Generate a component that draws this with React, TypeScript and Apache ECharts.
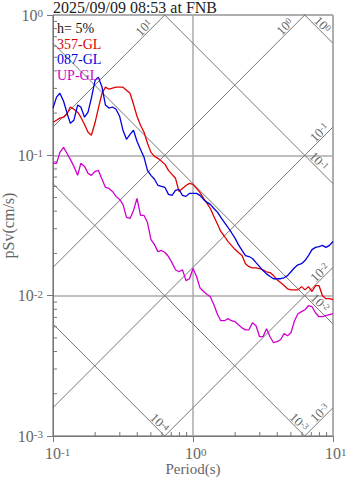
import React, { useEffect, useRef } from "react";
import * as echarts from "echarts";

const periods = [
  0.1, 0.106, 0.112, 0.119, 0.126, 0.133, 0.141, 0.15, 0.158, 0.168,
  0.178, 0.188, 0.2, 0.211, 0.224, 0.237, 0.251, 0.266, 0.282, 0.299,
  0.316, 0.335, 0.355, 0.376, 0.398, 0.422, 0.447, 0.473, 0.501, 0.531,
  0.562, 0.596, 0.631, 0.668, 0.708, 0.75, 0.794, 0.841, 0.891, 0.944,
  1.0, 1.06, 1.12, 1.19, 1.26, 1.33, 1.41, 1.5, 1.58, 1.68,
  1.78, 1.88, 2.0, 2.11, 2.24, 2.37, 2.51, 2.66, 2.82, 2.99,
  3.16, 3.35, 3.55, 3.76, 3.98, 4.22, 4.47, 4.73, 5.01, 5.31,
  5.62, 5.96, 6.31, 6.68, 7.08, 7.5, 7.94, 8.41, 8.91, 9.44, 10.0,
];

const sv357 = [
  0.172, 0.178, 0.184, 0.187, 0.197, 0.221, 0.213, 0.203, 0.187, 0.166,
  0.146, 0.139, 0.172, 0.217, 0.277, 0.306, 0.296, 0.301, 0.306, 0.306,
  0.306, 0.291, 0.277, 0.231, 0.19, 0.164, 0.146, 0.122, 0.105, 0.0984,
  0.0952, 0.0906, 0.0862, 0.0781, 0.0732, 0.0686, 0.0553, 0.0581, 0.061, 0.0631,
  0.0621, 0.0581, 0.0544, 0.0493, 0.0454, 0.0418, 0.0367, 0.0321, 0.0287, 0.0264,
  0.0243, 0.0228, 0.0213, 0.0203, 0.0193, 0.0169, 0.0161, 0.0158, 0.0158, 0.0156,
  0.0153, 0.0148, 0.0146, 0.0139, 0.013, 0.0124, 0.0118, 0.0112, 0.011, 0.011,
  0.011, 0.0116, 0.011, 0.0116, 0.0107, 0.0118, 0.0118, 0.01, 0.00952, 0.00952, 0.00936,
];

const sv087 = [
  0.217, 0.26, 0.277, 0.243, 0.2, 0.169, 0.178, 0.228, 0.221, 0.187,
  0.203, 0.256, 0.343, 0.361, 0.306, 0.228, 0.217, 0.221, 0.213, 0.19,
  0.151, 0.13, 0.141, 0.151, 0.126, 0.11, 0.0968, 0.0781, 0.072, 0.0675,
  0.061, 0.06, 0.059, 0.0527, 0.0518, 0.0562, 0.0571, 0.0518, 0.051, 0.0536,
  0.0536, 0.0536, 0.0518, 0.0485, 0.0462, 0.0447, 0.0418, 0.0392, 0.0361, 0.0332,
  0.0306, 0.0282, 0.0256, 0.0231, 0.021, 0.0193, 0.019, 0.0184, 0.0172, 0.0161,
  0.0151, 0.0143, 0.0137, 0.0132, 0.0132, 0.0132, 0.0134, 0.0139, 0.0148, 0.0158,
  0.0166, 0.0169, 0.0178, 0.0193, 0.0213, 0.0221, 0.0224, 0.0228, 0.0221, 0.0228, 0.0243,
];

const svUP = [
  0.0877, 0.0877, 0.105, 0.114, 0.103, 0.0936, 0.0834, 0.072, 0.0877, 0.0834,
  0.0744, 0.072, 0.077, 0.0781, 0.0675, 0.059, 0.0581, 0.0553, 0.051, 0.0485,
  0.0447, 0.0361, 0.0355, 0.0405, 0.0493, 0.0373, 0.0373, 0.0332, 0.0251, 0.0231,
  0.0206, 0.021, 0.0203, 0.019, 0.0172, 0.0153, 0.0148, 0.0153, 0.0128, 0.0132,
  0.0156, 0.0137, 0.0114, 0.0107, 0.0102, 0.00984, 0.00862, 0.00732, 0.00663, 0.00663,
  0.00686, 0.00663, 0.00652, 0.00621, 0.0059, 0.00571, 0.00571, 0.00641, 0.0061, 0.0051,
  0.0051, 0.00581, 0.0051, 0.00462, 0.0047, 0.00485, 0.00536, 0.00518, 0.00544, 0.00663,
  0.00744, 0.0077, 0.00794, 0.00848, 0.00834, 0.00756, 0.00708, 0.00708, 0.0072, 0.00732, 0.00744,
];

const seriesNames = ["357-GL", "087-GL", "UP-GL"];
const seriesColors = ["#e00000", "#0000e0", "#d000d0"];
const dampingText = "h= 5%";
const titleText = "2025/09/09 08:53 at FNB";
const xName = "Period(s)";
const yName = "pSv(cm/s)";

// tripartite guide lines: constant pseudo-acceleration (cm/s^2) and displacement (cm)
const accelLevels = [10, 1, 0.1, 0.01, 0.001];
const accelLabelPeriods = [0.477, 4.85, 8.55, 8.6, 8.6];
const dispLevels = [1, 0.1, 0.01, 0.001, 0.0001];
const dispLabelPeriods = [7.87, 7.4, 7.56, 5.35, 0.54];

const xMinorTicks = [0.2, 0.3, 0.4, 0.5, 0.6, 0.7, 0.8, 0.9, 2, 3, 4, 5, 6, 7, 8, 9];
const yMinorTicks = [
  0.002, 0.003, 0.004, 0.005, 0.006, 0.007, 0.008, 0.009,
  0.02, 0.03, 0.04, 0.05, 0.06, 0.07, 0.08, 0.09,
  0.2, 0.3, 0.4, 0.5, 0.6, 0.7, 0.8, 0.9,
];

const FONT = "'Liberation Serif', 'DejaVu Serif', serif";
const TWO_PI = 2 * Math.PI;
const svFromAccel = (sa: number, t: number) => (sa * t) / TWO_PI;
const svFromDisp = (d: number, t: number) => (TWO_PI * d) / t;
const expOf = (v: number) => Math.round(Math.log10(v));

export default function App() {
  const ref = useRef<HTMLDivElement>(null);

  useEffect(() => {
    if (!ref.current) return;
    const chart = echarts.init(ref.current, null, { renderer: "svg" });

    const labelRich = {
      p: { fontSize: 11, lineHeight: 10, verticalAlign: "top", color: "transparent", fontFamily: FONT },
      b: { fontSize: 16, lineHeight: 15, color: "#666", fontFamily: FONT },
      s: { fontSize: 11, lineHeight: 10, verticalAlign: "top", color: "#666", fontFamily: FONT },
    };
    const diagRich = {
      b: { fontSize: 13, lineHeight: 12, color: "#666", fontFamily: FONT },
      s: { fontSize: 9, lineHeight: 8, verticalAlign: "top", color: "#666", fontFamily: FONT },
    };

    const guideSeries: any[] = [];
    accelLevels.forEach((sa) => {
      guideSeries.push({
        type: "line",
        silent: true,
        showSymbol: false,
        clip: true,
        z: 1,
        lineStyle: { color: "#777", width: 1 },
        data: [
          [0.1, svFromAccel(sa, 0.1)],
          [10, svFromAccel(sa, 10)],
        ],
      });
    });
    dispLevels.forEach((d) => {
      guideSeries.push({
        type: "line",
        silent: true,
        showSymbol: false,
        clip: true,
        z: 1,
        lineStyle: { color: "#777", width: 1 },
        data: [
          [0.1, svFromDisp(d, 0.1)],
          [10, svFromDisp(d, 10)],
        ],
      });
    });

    const diagLabelData: number[][] = [];
    accelLevels.forEach((sa, i) => {
      const t = accelLabelPeriods[i];
      diagLabelData.push([t, svFromAccel(sa, t), 0, expOf(sa)]);
    });
    dispLevels.forEach((d, i) => {
      const t = dispLabelPeriods[i];
      diagLabelData.push([t, svFromDisp(d, t), 1, expOf(d)]);
    });

    const dataSeries = [sv357, sv087, svUP].map((vals, i) => ({
      name: seriesNames[i],
      type: "line",
      showSymbol: false,
      z: 5,
      lineStyle: { color: seriesColors[i], width: 1.3 },
      itemStyle: { color: seriesColors[i] },
      data: periods.map((t, j) => [t, vals[j]]),
    }));

    const legendY = [28.5, 44, 59.5, 75];

    chart.setOption({
      animation: false,
      title: {
        text: titleText,
        left: 53,
        top: 0,
        padding: 0,
        textStyle: { fontFamily: FONT, fontSize: 16, fontWeight: "normal", color: "#222", lineHeight: 14 },
      },
      grid: {
        left: 53,
        top: 15,
        width: 280,
        height: 421,
        outerBoundsMode: "none",
        containLabel: false,
        show: true,
        borderColor: "#777",
        borderWidth: 1,
        backgroundColor: "transparent",
      },
      xAxis: {
        type: "log",
        logBase: 10,
        min: 0.1,
        max: 10,
        name: xName,
        nameLocation: "middle",
        nameGap: 25,
        nameMoveOverlap: false,
        nameTextStyle: { fontFamily: FONT, fontSize: 15, color: "#666", lineHeight: 15, verticalAlign: "top" },
        axisLine: { show: true, lineStyle: { color: "#777", width: 1 } },
        axisTick: { show: true, inside: false, length: 6, lineStyle: { color: "#777" } },
        splitLine: { show: true, lineStyle: { color: "#aaa", width: 1.5 } },
        minorTick: { show: false },
        axisLabel: {
          margin: 10,
          formatter: (v: number) => {
            const e = expOf(v);
            return `{p|${e}}{b|10}{s|${e}}`;
          },
          rich: labelRich,
        },
      },
      yAxis: {
        type: "log",
        logBase: 10,
        min: 0.001,
        max: 1,
        name: yName,
        nameLocation: "middle",
        nameGap: 37,
        nameMoveOverlap: false,
        nameTextStyle: { fontFamily: FONT, fontSize: 16, color: "#666", lineHeight: 15 },
        axisLine: { show: true, lineStyle: { color: "#777", width: 1 } },
        axisTick: { show: true, inside: false, length: 6, lineStyle: { color: "#777" } },
        splitLine: { show: true, lineStyle: { color: "#aaa", width: 1.5 } },
        axisLabel: {
          margin: 10,
          formatter: (v: number) => {
            const e = expOf(v);
            return `{b|10}{s|${e}}`;
          },
          rich: labelRich,
        },
      },
      graphic: [
        {
          type: "text",
          x: 57,
          y: legendY[0],
          z: 10,
          style: { text: dampingText, fill: "#111", font: `14px ${FONT}`, verticalAlign: "middle", lineHeight: 12 },
        },
        ...seriesNames.map((n, i) => ({
          type: "text",
          x: 57,
          y: legendY[i + 1],
          z: 10,
          style: { text: n, fill: seriesColors[i], font: `14px ${FONT}`, verticalAlign: "middle", lineHeight: 12 },
        })),
      ],
      series: [
        ...guideSeries,
        {
          type: "custom",
          silent: true,
          z: 3,
          data: xMinorTicks.map((v) => [v, 0.001]),
          encode: { x: 0, y: 1 },
          renderItem: (params: any, api: any) => {
            const p = api.coord([api.value(0), api.value(1)]);
            return {
              type: "line",
              shape: { x1: p[0], y1: p[1], x2: p[0], y2: p[1] - 4 },
              style: { stroke: "#777", lineWidth: 1 },
            };
          },
        },
        {
          type: "custom",
          silent: true,
          z: 3,
          data: yMinorTicks.map((v) => [0.1, v]),
          encode: { x: 0, y: 1 },
          renderItem: (params: any, api: any) => {
            const p = api.coord([api.value(0), api.value(1)]);
            return {
              type: "line",
              shape: { x1: p[0], y1: p[1], x2: p[0] + 4, y2: p[1] },
              style: { stroke: "#777", lineWidth: 1 },
            };
          },
        },
        {
          type: "custom",
          silent: true,
          z: 4,
          data: diagLabelData,
          encode: { x: 0, y: 1 },
          renderItem: (params: any, api: any) => {
            const p = api.coord([api.value(0), api.value(1)]);
            const kind = api.value(2);
            const e = api.value(3);
            return {
              type: "text",
              x: p[0],
              y: p[1],
              rotation: kind === 0 ? Math.PI / 4 : -Math.PI / 4,
              style: {
                text: `{b|10}{s|${e}}`,
                rich: diagRich,
                align: "center",
                verticalAlign: "bottom",
                fill: "#666",
              },
            };
          },
        },
        ...dataSeries,
      ],
    });

    return () => chart.dispose();
  }, []);

  return (
    <div
      ref={ref}
      style={{ position: "fixed", left: 0, top: 0, width: 347, height: 478, background: "#fff" }}
    />
  );
}
